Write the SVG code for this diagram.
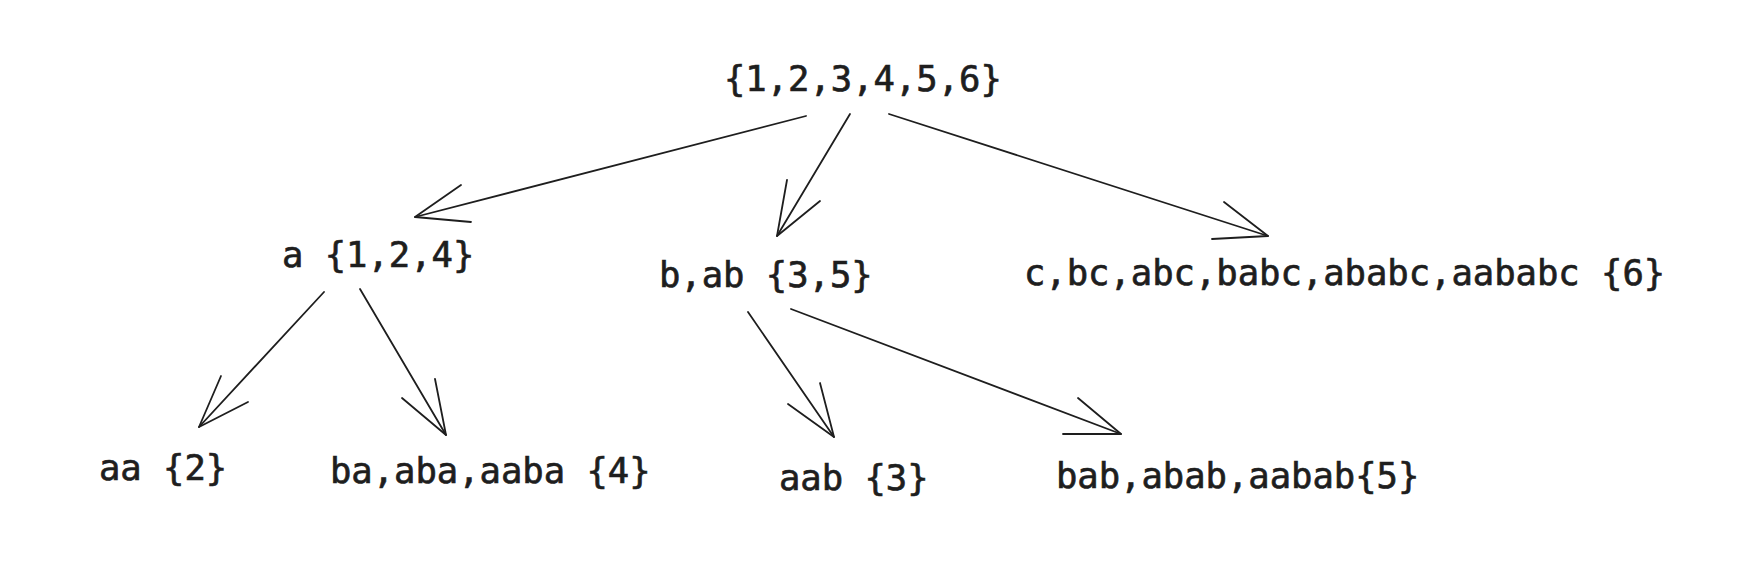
<svg xmlns="http://www.w3.org/2000/svg" width="1760" height="562" viewBox="0 0 1760 562">
<style>
.t{font-family:"DejaVu Sans Mono","Liberation Mono",monospace;font-size:35.5px;fill:#1e1e1e;stroke:#1e1e1e;stroke-width:0.7}
.c line,.c polyline{stroke:#1e1e1e;stroke-width:1.8;fill:none;stroke-linecap:round;stroke-linejoin:round}
</style>
<rect width="1760" height="562" fill="#ffffff"/>
<g id="connectors" class="c">
<line x1="806" y1="116" x2="415" y2="217"/><polyline points="461,185 415,217 471,222"/>
<line x1="850" y1="114" x2="777" y2="236"/><polyline points="787,180 777,236 820,201"/>
<line x1="889" y1="114" x2="1268" y2="236"/><polyline points="1224,202 1268,236 1212,239"/>
<line x1="324" y1="292" x2="199" y2="427"/><polyline points="221,376 199,427 248,402"/>
<line x1="360" y1="289" x2="446" y2="435"/><polyline points="435,379 446,435 402,398"/>
<line x1="748" y1="312" x2="834" y2="437"/><polyline points="820,383 834,437 788,404"/>
<line x1="791" y1="309" x2="1121" y2="434"/><polyline points="1078,398 1121,434 1063,434"/>
</g>
<g id="root"><text class="t" x="724" y="91">{1,2,3,4,5,6}</text></g>
<g id="n-a"><text class="t" x="282" y="267">a {1,2,4}</text></g>
<g id="n-bab"><text class="t" x="659" y="287">b,ab {3,5}</text></g>
<g id="n-c"><text class="t" x="1024" y="285">c,bc,abc,babc,ababc,aababc {6}</text></g>
<g id="n-aa"><text class="t" x="99" y="480">aa {2}</text></g>
<g id="n-ba"><text class="t" x="330" y="483">ba,aba,aaba {4}</text></g>
<g id="n-aab"><text class="t" x="779" y="490">aab {3}</text></g>
<g id="n-bab5"><text class="t" x="1056" y="488">bab,abab,aabab{5}</text></g>
</svg>
